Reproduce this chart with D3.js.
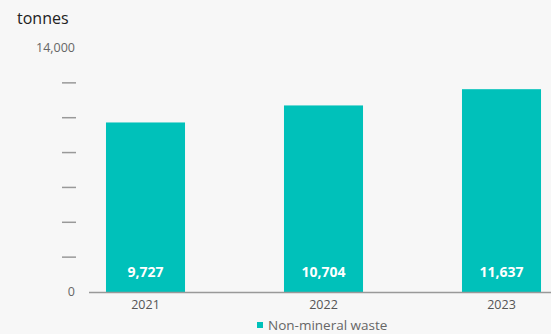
<!DOCTYPE html>
<html>
<head>
<meta charset="utf-8">
<script src="https://cdn.jsdelivr.net/npm/d3@7"></script>
<style>
  body { margin: 0; background: #f7f7f7; }
  svg { display: block; font-family: "Open Sans", Lato, sans-serif; }
</style>
</head>
<body>
<div id="chart"></div>
<script>
// data
var years = ["2021", "2022", "2023"];
var values = [9727, 10704, 11637];
var yTicks = [0, 2000, 4000, 6000, 8000, 10000, 12000, 14000];
var seriesName = "Non-mineral waste";

var width = 551, height = 334;
var teal = "#00c1ba";

var svg = d3.select("#chart").append("svg")
    .attr("width", width)
    .attr("height", height);

svg.append("rect").attr("width", width).attr("height", height).attr("fill", "#f7f7f7");

var x = d3.scaleBand()
    .domain(years)
    .range([56.5, 590.5])
    .paddingInner(0.556)
    .paddingOuter(0.278);

var y = d3.scaleLinear()
    .domain([0, 14000])
    .range([292, 48]);

var fmt = d3.format(",d");

// unit label
svg.append("text")
    .attr("x", 17).attr("y", 24)
    .attr("font-size", 16)
    .attr("fill", "#222")
    .text("tonnes");

// y ticks: dashes with labels only at the ends
var ty = svg.append("g").attr("class", "y-ticks");
yTicks.forEach(function(t) {
  if (t == 0 || t == 14000) {
    ty.append("text")
      .attr("x", 75).attr("y", y(t) + 4)
      .attr("text-anchor", "end")
      .attr("font-size", 12.5)
      .attr("fill", "#666")
      .text(fmt(t));
  } else {
    ty.append("line")
      .attr("x1", 62).attr("x2", 76)
      .attr("y1", y(t)).attr("y2", y(t))
      .attr("stroke", "#999")
      .attr("stroke-width", 1.5);
  }
});

// bars
svg.selectAll(".bar")
    .data(values)
  .enter().append("rect")
    .attr("class", "bar")
    .attr("x", function(d, i) { return x(years[i]); })
    .attr("width", x.bandwidth())
    .attr("y", function(d) { return y(d); })
    .attr("height", function(d) { return y(0) - y(d); })
    .attr("fill", teal);

// value labels inside bars
svg.selectAll(".val")
    .data(values)
  .enter().append("text")
    .attr("class", "val")
    .attr("x", function(d, i) { return x(years[i]) + x.bandwidth() / 2; })
    .attr("y", 277)
    .attr("text-anchor", "middle")
    .attr("font-size", 14)
    .attr("font-weight", "bold")
    .attr("fill", "#fff")
    .text(function(d) { return fmt(d); });

// baseline
svg.append("line")
    .attr("x1", 89).attr("x2", width)
    .attr("y1", y(0) + 0.5).attr("y2", y(0) + 0.5)
    .attr("stroke", "#999")
    .attr("stroke-width", 1.5);

// x axis labels
var xAxis = d3.axisBottom(x).tickSize(0).tickPadding(7);
var gx = svg.append("g")
    .attr("transform", "translate(0," + (y(0) + 1) + ")")
    .call(xAxis);
gx.select(".domain").remove();
gx.selectAll("text")
    .attr("font-size", 12.5)
    .attr("font-family", "'Open Sans', sans-serif")
    .attr("fill", "#555");

// legend
var lg = svg.append("g").attr("transform", "translate(257,322)");
lg.append("rect").attr("width", 6).attr("height", 6).attr("fill", teal);
lg.append("text")
    .attr("x", 11).attr("y", 7.5)
    .attr("font-size", 13.5)
    .attr("fill", "#666")
    .text(seriesName);
</script>
</body>
</html>
